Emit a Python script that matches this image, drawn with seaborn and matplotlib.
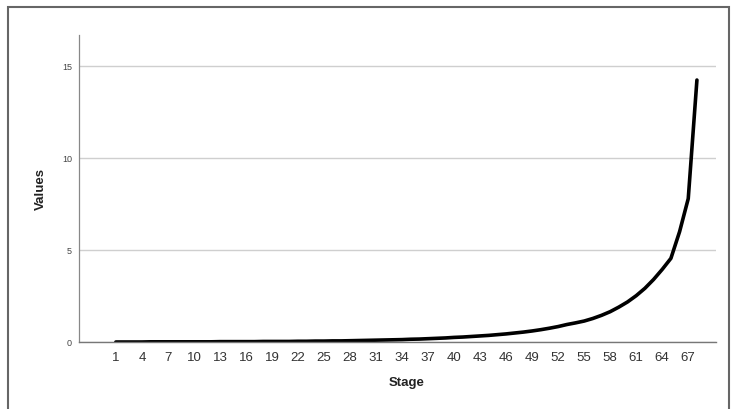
import matplotlib
matplotlib.use("Agg")
import matplotlib.pyplot as plt
import seaborn as sns
import pandas as pd
from matplotlib.patches import Rectangle

stages = list(range(1, 69))
values = [
    0.00, 0.00, 0.00, 0.00, 0.01, 0.01, 0.01, 0.01, 0.01, 0.01,
    0.01, 0.01, 0.02, 0.02, 0.02, 0.02, 0.02, 0.03, 0.03, 0.03,
    0.03, 0.04, 0.04, 0.05, 0.05, 0.06, 0.06, 0.07, 0.08, 0.09,
    0.10, 0.11, 0.12, 0.13, 0.15, 0.16, 0.18, 0.20, 0.22, 0.25,
    0.27, 0.30, 0.33, 0.36, 0.40, 0.44, 0.49, 0.54, 0.60, 0.67,
    0.75, 0.84, 0.95, 1.04, 1.14, 1.28, 1.45, 1.65, 1.90, 2.18,
    2.52, 2.92, 3.40, 3.95, 4.55, 6.00, 7.80, 14.25,
]
x_ticks = list(range(1, 68, 3))
y_ticks = [0, 5, 10, 15]

df = pd.DataFrame({"Stage": stages, "Values": values})

sns.set_style("white")
plt.rcParams["font.family"] = ["Liberation Sans", "DejaVu Sans"]

fig = plt.figure(figsize=(7.31, 4.09), dpi=100)
ax = fig.add_axes([79/731, 1 - 342/409, (716 - 79)/731, (342 - 35)/409])

sns.lineplot(data=df, x="Stage", y="Values", ax=ax, color="black", linewidth=2.6)

ax.set_xlim(-3.25, 70.2)
ax.set_ylim(0, 16.7)
ax.set_xticks(x_ticks)
ax.set_xticklabels([str(t) for t in x_ticks], fontsize=9.5, color="#333333")
ax.set_yticks(y_ticks)
ax.set_yticklabels([str(t) for t in y_ticks], fontsize=6.5, color="#444444")
ax.tick_params(axis="x", length=0, pad=7)
ax.tick_params(axis="y", length=0, pad=5)
ax.yaxis.grid(True, color="#cfcfcf", linewidth=1)
ax.set_axisbelow(True)

for s in ["top", "right"]:
    ax.spines[s].set_visible(False)
ax.spines["left"].set_color("#888888")
ax.spines["left"].set_linewidth(0.9)
ax.spines["bottom"].set_color("#777777")
ax.spines["bottom"].set_linewidth(1.0)

ax.set_xlabel("Stage", fontsize=9.5, fontweight="bold", color="#222222", labelpad=10)
ax.xaxis.set_label_coords(0.515, -0.115)
ax.set_ylabel("Values", fontsize=9.5, fontweight="bold", color="#222222", labelpad=11)

fig.patches.append(Rectangle((8/731, -0.02), (729 - 8)/731, 1 - 7/409 + 0.02,
                             transform=fig.transFigure, fill=False,
                             edgecolor="#666666", linewidth=1.5))

fig.savefig("out.png", dpi=100)
